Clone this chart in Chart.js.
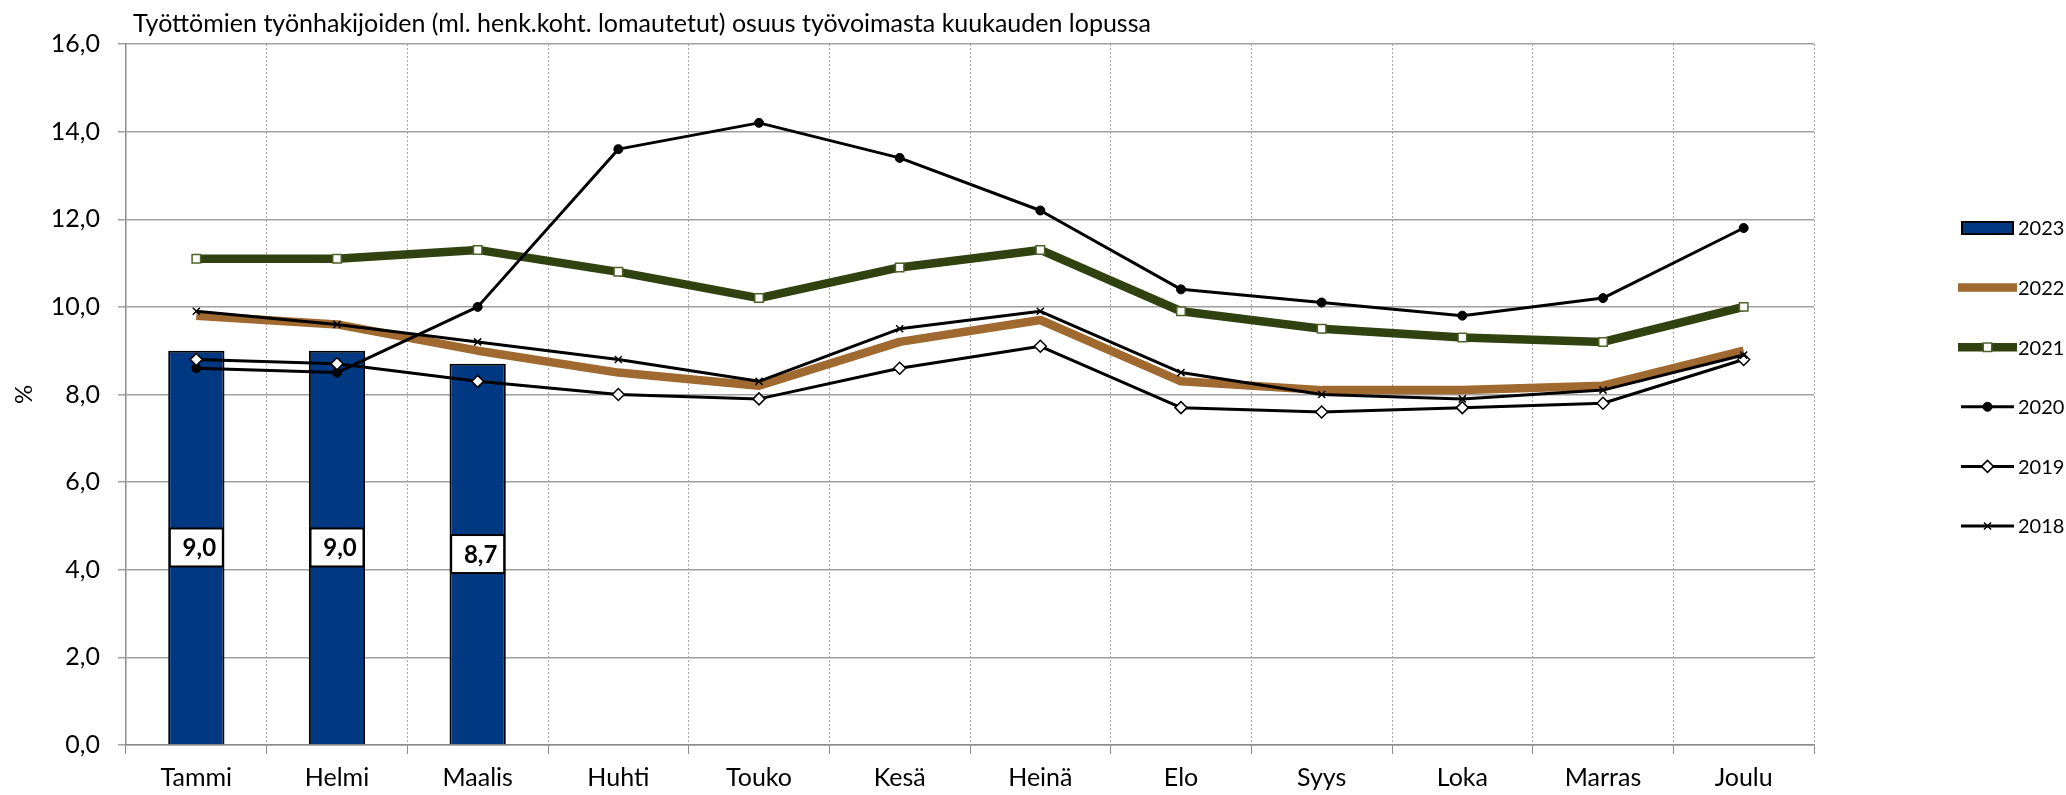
<!DOCTYPE html>
<html><head><meta charset="utf-8">
<script src="https://cdn.jsdelivr.net/npm/chart.js@4.4.0/dist/chart.umd.min.js"></script>
<style>html,body{margin:0;padding:0;background:#fff;overflow:hidden}#wrap{width:2066px;height:795px}</style>
</head><body><div id="wrap"><canvas id="c" width="2066" height="795"></canvas></div>
<script>
const chartTitle = 'Työttömien työnhakijoiden (ml. henk.koht. lomautetut) osuus työvoimasta kuukauden lopussa';
const categories = ['Tammi','Helmi','Maalis','Huhti','Touko','Kesä','Heinä','Elo','Syys','Loka','Marras','Joulu'];
const yTickValues = [0, 2, 4, 6, 8, 10, 12, 14, 16];
const yAxisTitle = '%';
const values2023 = [9.0, 9.0, 8.7, null, null, null, null, null, null, null, null, null];
const values2022 = [9.8, 9.6, 9.0, 8.5, 8.2, 9.2, 9.7, 8.3, 8.1, 8.1, 8.2, 9.0];
const values2021 = [11.1, 11.1, 11.3, 10.8, 10.2, 10.9, 11.3, 9.9, 9.5, 9.3, 9.2, 10.0];
const values2020 = [8.6, 8.5, 10.0, 13.6, 14.2, 13.4, 12.2, 10.4, 10.1, 9.8, 10.2, 11.8];
const values2019 = [8.8, 8.7, 8.3, 8.0, 7.9, 8.6, 9.1, 7.7, 7.6, 7.7, 7.8, 8.8];
const values2018 = [9.9, 9.6, 9.2, 8.8, 8.3, 9.5, 9.9, 8.5, 8.0, 7.9, 8.1, 8.9];

const FONT = 'Lato, "Open Sans", sans-serif';
const fmt = v => v.toFixed(1).replace('.', ',');

const BLUE = '#003882', BROWN = '#A0692F', GREEN = '#30420F', GREEN_EDGE = '#4F6228';

const datasets = [
  { type: 'line', label: '2018', data: values2018, order: 0, borderColor: '#000', borderWidth: 3,
    pointStyle: 'crossRot', pointRadius: 5, pointBorderWidth: 1.5, pointBorderColor: '#000', pointBackgroundColor: '#000', borderJoinStyle: 'round' },
  { type: 'line', label: '2019', data: values2019, order: 1, borderColor: '#000', borderWidth: 3,
    pointStyle: 'rectRot', pointRadius: 6, pointBorderWidth: 1.5, pointBorderColor: '#000', pointBackgroundColor: '#fff', borderJoinStyle: 'round' },
  { type: 'line', label: '2020', data: values2020, order: 2, borderColor: '#000', borderWidth: 3,
    pointStyle: 'circle', pointRadius: 4.5, pointBorderWidth: 1, pointBorderColor: '#000', pointBackgroundColor: '#000', borderJoinStyle: 'round' },
  { type: 'line', label: '2021', data: values2021, order: 3, borderColor: GREEN, borderWidth: 8.5,
    pointStyle: 'rect', pointRadius: 6, pointBorderWidth: 1.5, pointBorderColor: GREEN_EDGE, pointBackgroundColor: '#fff', borderJoinStyle: 'round' },
  { type: 'line', label: '2022', data: values2022, order: 4, borderColor: BROWN, borderWidth: 8.5,
    pointRadius: 0, borderJoinStyle: 'round' },
  { type: 'bar', label: '2023', data: values2023, order: 5, backgroundColor: BLUE, borderColor: '#000', borderWidth: 2,
    barPercentage: 0.4, categoryPercentage: 1.0 }
];

const legendOrder = ['2023', '2022', '2021', '2020', '2019', '2018'];

const titlePlugin = {
  id: 'customTitle',
  afterDraw(chart) {
    const ctx = chart.ctx;
    ctx.save();
    ctx.font = '25px ' + FONT;
    ctx.fillStyle = '#000';
    ctx.textAlign = 'left';
    ctx.textBaseline = 'alphabetic';
    ctx.fillText(chartTitle, 133, 32);
    ctx.restore();
  }
};

const barLabelPlugin = {
  id: 'barLabels',
  afterDatasetsDraw(chart) {
    const ctx = chart.ctx;
    const idx = chart.data.datasets.findIndex(d => d.type === 'bar');
    const meta = chart.getDatasetMeta(idx);
    ctx.save();
    ctx.font = 'bold 24px ' + FONT;
    meta.data.forEach((bar, i) => {
      const v = chart.data.datasets[idx].data[i];
      if (v == null) return;
      const cx = bar.x, cy = (bar.y + bar.base) / 2;
      const w = 53, h = 38;
      ctx.fillStyle = '#fff';
      ctx.fillRect(cx - w / 2, cy - h / 2, w, h);
      ctx.lineWidth = 2;
      ctx.strokeStyle = '#000';
      ctx.strokeRect(cx - w / 2, cy - h / 2, w, h);
      ctx.fillStyle = '#000';
      ctx.textAlign = 'center';
      ctx.textBaseline = 'middle';
      ctx.fillText(fmt(v), cx + 3, cy + 1);
    });
    ctx.restore();
  }
};

const legendPlugin = {
  id: 'customLegend',
  afterDraw(chart) {
    const ctx = chart.ctx;
    const x0 = 1958, x1 = 2017, tx = 2018, y0 = 228, step = 59.6;
    ctx.save();
    legendOrder.forEach((lab, k) => {
      const ds = chart.data.datasets.find(d => d.label === lab);
      const y = y0 + k * step;
      if (ds.type === 'bar') {
        ctx.fillStyle = ds.backgroundColor;
        ctx.fillRect(1962, y - 6, 51, 12);
        ctx.lineWidth = 2; ctx.strokeStyle = '#000';
        ctx.strokeRect(1962, y - 6, 51, 12);
      } else {
        const thick = ds.borderWidth > 5;
        ctx.strokeStyle = ds.borderColor;
        ctx.lineWidth = ds.borderWidth;
        ctx.beginPath();
        ctx.moveTo(thick ? x0 : x0 + 3, y);
        ctx.lineTo(thick ? x1 : x1 - 3, y);
        ctx.stroke();
        if (ds.pointRadius > 0) {
          ctx.fillStyle = ds.pointBackgroundColor;
          ctx.strokeStyle = ds.pointBorderColor;
          ctx.lineWidth = ds.pointBorderWidth;
          Chart.helpers.drawPoint(ctx, {
            pointStyle: ds.pointStyle, radius: ds.pointRadius, borderWidth: ds.pointBorderWidth, rotation: 0
          }, (x0 + x1) / 2, y);
        }
      }
      ctx.fillStyle = '#000';
      ctx.font = '20px ' + FONT;
      ctx.textAlign = 'left';
      ctx.textBaseline = 'middle';
      ctx.fillText(lab, tx, y + 1);
    });
    ctx.restore();
  }
};

new Chart(document.getElementById('c'), {
  data: { labels: categories, datasets },
  options: {
    responsive: false,
    animation: false,
    devicePixelRatio: 1,
    layout: { padding: { left: 0, top: 44, right: 252, bottom: 0 } },
    plugins: { legend: { display: false }, tooltip: { enabled: false } },
    scales: {
      x: {
        offset: true,
        grid: { offset: true, color: '#a6a6a6', lineWidth: 1, tickLength: 9, tickColor: '#8c8c8c', drawTicks: true },
        border: { dash: [2, 2], color: '#8c8c8c', width: 1.5 },
        ticks: { color: '#000', font: { family: FONT, size: 25 }, padding: 9, maxRotation: 0, autoSkip: false },
        afterFit(scale) { scale.height = 50; }
      },
      y: {
        min: 0, max: 16,
        afterBuildTicks(scale) { scale.ticks = yTickValues.map(v => ({ value: v })); },
        grid: { color: '#a0a0a0', lineWidth: 1.5, tickLength: 8, tickColor: '#a0a0a0' },
        border: { color: '#8c8c8c', width: 1.5 },
        ticks: { color: '#000', font: { family: FONT, size: 25 }, padding: 18, callback: v => fmt(v) },
        title: { display: true, text: yAxisTitle, color: '#000', font: { family: FONT, size: 24 }, padding: { top: 10, bottom: 0 } },
        afterFit(scale) { scale.width = 126; }
      }
    }
  },
  plugins: [titlePlugin, barLabelPlugin, legendPlugin]
});
</script>
</body></html>
